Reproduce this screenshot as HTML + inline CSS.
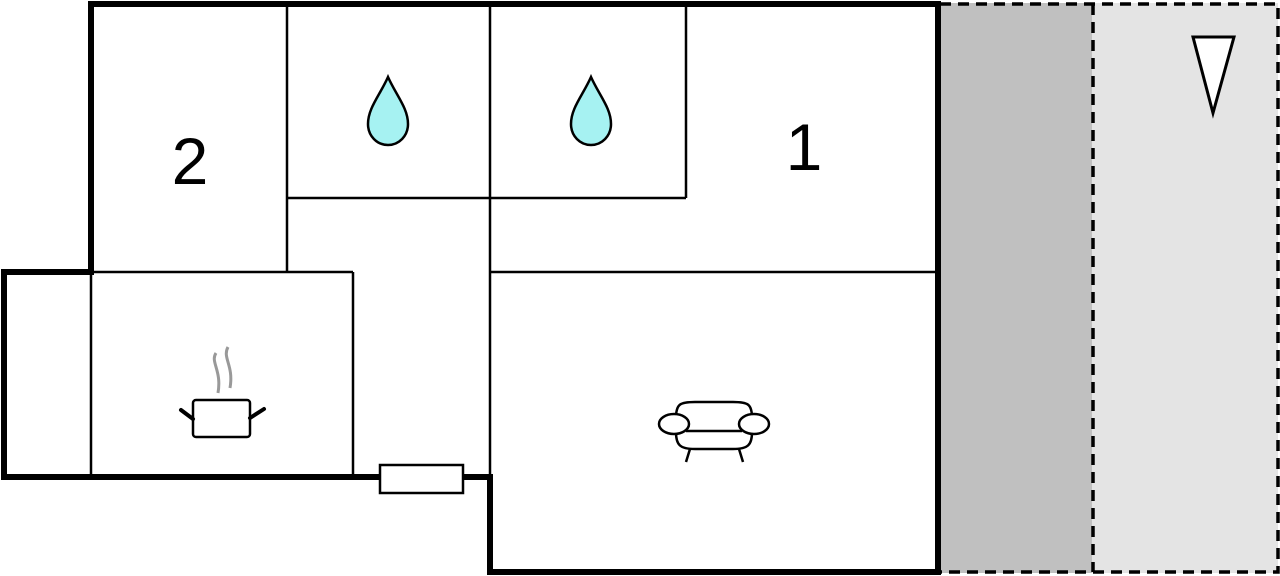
<!DOCTYPE html>
<html><head><style>body{margin:0;background:#fff}svg{display:block}</style></head><body>
<svg width="1280" height="576" viewBox="0 0 1280 576" xmlns="http://www.w3.org/2000/svg">
<rect x="940" y="3" width="152" height="570" fill="#c0c0c0"/>
<rect x="1092" y="3" width="186" height="570" fill="#e4e4e4"/>
<g fill="none" stroke="#000" stroke-width="3.5" stroke-dasharray="11,7">
<path d="M940 4H1278V572H940"/>
<path d="M1093 4V572"/>
</g>
<polygon points="1193,37 1234,37 1213,113" fill="#fff" stroke="#000" stroke-width="3"/>
<g stroke="#000" stroke-width="2.5" fill="none">
<path d="M91 272V477M353 272V477M287 4V272M287 198H686M490 4V477M686 4V198M490 272H938M91 272H353"/>
</g>
<g stroke="#000" stroke-width="6" fill="none" stroke-linecap="square">
<path d="M91 272V4H938V572H490V477H4V272H91"/>
</g>
<rect x="380" y="465" width="83" height="28" fill="#fff" stroke="#000" stroke-width="2.5"/>
<g fill="#a6f2f2" stroke="#000" stroke-width="2.5">
<path d="M388 77 C380 95 368 108 368 124 C368 136 377 145 388 145 C399 145 408 136 408 124 C408 108 396 95 388 77Z"/>
<path d="M591 77 C583 95 571 108 571 124 C571 136 580 145 591 145 C602 145 611 136 611 124 C611 108 599 95 591 77Z"/>
</g>
<text x="190" y="184" font-family="Liberation Sans, sans-serif" font-size="66" text-anchor="middle">2</text>
<text x="804" y="170" font-family="Liberation Sans, sans-serif" font-size="66" text-anchor="middle">1</text>
<g fill="none" stroke="#999" stroke-width="3">
<path d="M216 353 C210 362 222 370 218 393"/>
<path d="M228 347 C222 358 234 365 230 388"/>
</g>
<rect x="193" y="400" width="57" height="37" rx="3" fill="#fff" stroke="#000" stroke-width="2.5"/>
<g stroke="#000" stroke-width="4" stroke-linecap="round">
<path d="M181 410 L193 419M264 409 L250 418"/>
</g>
<g fill="none" stroke="#000" stroke-width="2.5">
<path d="M676 418 C676 404 680 402 695 402 H733 C748 402 752 404 752 418"/>
<path d="M676 432 C676 445 680 449 695 449 H733 C748 449 752 445 752 432"/>
<path d="M686 431H742"/>
<ellipse cx="674" cy="424" rx="15" ry="10" fill="#fff"/>
<ellipse cx="754" cy="424" rx="15" ry="10" fill="#fff"/>
<path d="M690 449 L686 462M739 449 L743 462"/>
</g>
</svg>
</body></html>
